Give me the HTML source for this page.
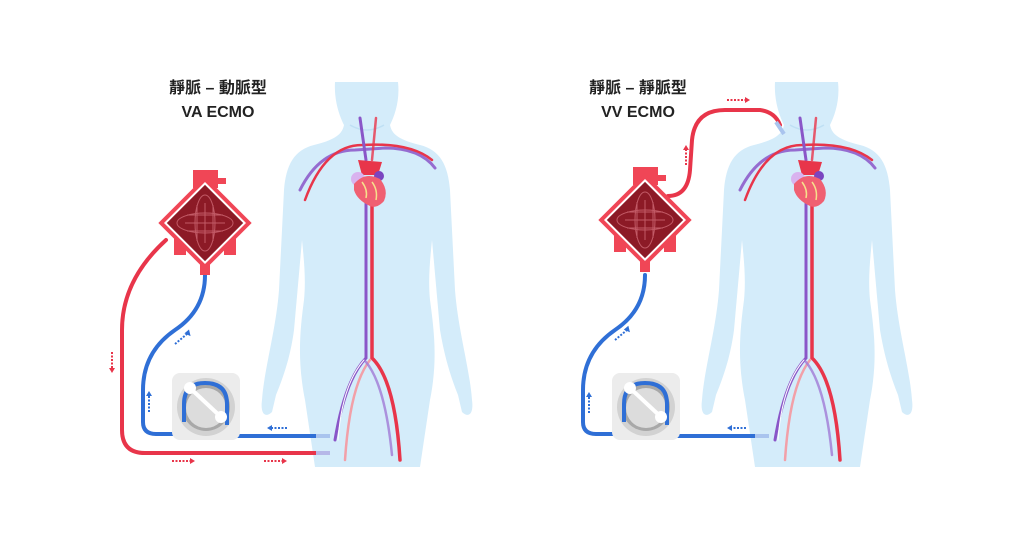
<!DOCTYPE html>
<html><head><meta charset="utf-8"><style>
html,body{margin:0;padding:0;background:#fff;width:1024px;height:546px;overflow:hidden}
svg{display:block}
text{font-family:"Liberation Sans","Noto Sans CJK TC",sans-serif;font-weight:bold;fill:#222}
</style></head><body>
<svg width="1024" height="546" viewBox="0 0 1024 546" xmlns="http://www.w3.org/2000/svg">
<defs>
<g id="body">
<path fill="#d4ecfa" d="M335,82 L398,82 C400,100 395,115 390,125 C392,135 400,140 420,145 C440,150 448,165 450,190 L455,290 C458,330 470,370 472,400 C474,415 468,418 462,412 L458,395 C452,380 445,360 440,330 L432,240 C430,260 428,280 430,300 C434,330 438,360 430,400 L420,467 L315,467 L305,400 C297,360 300,330 304,300 C306,280 304,260 302,240 L294,330 C290,360 282,380 276,395 L272,412 C266,418 260,415 262,400 C264,370 276,330 279,290 L284,190 C286,165 294,150 314,145 C334,140 342,135 344,125 C339,115 334,100 335,82 Z"/>
<path d="M350,125 Q367,135 384,125" stroke="#bfe0f4" stroke-width="1.5" fill="none"/>
<g fill="none" stroke-linecap="round">
<path d="M300,190 Q320,150 355,150 L385,148 Q420,148 435,168" stroke="#8a56c8" stroke-width="3" opacity=".85"/>
<path d="M305,200 Q325,145 362,145 Q410,142 432,160" stroke="#e8354a" stroke-width="2.5"/>
<path d="M360,118 L366,160" stroke="#8a56c8" stroke-width="3"/>
<path d="M376,118 L372,160" stroke="#e8354a" stroke-width="2.5" opacity=".8"/>
<path d="M366,200 L366,358 Q345,380 335,440" stroke="#8a56c8" stroke-width="3"/>
<path d="M372,200 L372,358 Q395,380 400,460" stroke="#e8354a" stroke-width="3.5"/>
<path d="M370,360 Q350,385 345,460" stroke="#f2a0a8" stroke-width="2.5"/>
<path d="M366,362 Q385,385 392,455" stroke="#a07ad6" stroke-width="2.5" opacity=".8"/>
<path d="M364,360 Q342,385 338,440" stroke="#fff" stroke-width="1" />
</g>
<path d="M358,160 L362,175 L378,175 L382,162" fill="#e8354a"/>
<circle cx="358" cy="179" r="7" fill="#d9b3ef"/>
<circle cx="379" cy="176" r="5" fill="#7a45c0"/>
<path d="M354,184 Q365,171 380,179 Q389,190 384,201 Q377,209 370,206 Q357,200 354,190 Z" fill="#f06072"/>
<path d="M362,182 Q368,190 366,198 M372,182 Q378,190 376,200" stroke="#f6e08a" stroke-width="1.5" fill="none"/>
</g>
<g id="oxy">
<rect x="-12" y="-53" width="25" height="18" fill="#f04656"/>
<rect x="13" y="-45" width="8" height="6" fill="#f04656"/>
<rect x="-31" y="14" width="12" height="18" fill="#f04656"/>
<rect x="19" y="14" width="12" height="18" fill="#f04656"/>
<rect x="-5" y="35" width="10" height="17" fill="#f04656"/>
<rect x="-33" y="-33" width="66" height="66" transform="rotate(45)" fill="#f04656"/>
<rect x="-28" y="-28" width="56" height="56" transform="rotate(45)" fill="#8c1a26" stroke="#fff" stroke-width="2"/>
<g stroke="#c25a66" stroke-width="1" fill="none">
<ellipse cx="0" cy="0" rx="28" ry="10"/><ellipse cx="0" cy="0" rx="10" ry="28"/>
<path d="M-20,0 H20 M0,-20 V20 M-18,-8 H18 M-18,8 H18 M-8,-18 V18 M8,-18 V18"/>
</g>
</g>
<g id="pump">
<rect x="0" y="0" width="68" height="67" rx="8" fill="#ececec"/>
<circle cx="34" cy="34" r="29" fill="#d2d2d2"/>
<circle cx="34" cy="34" r="24" fill="#a8a8a8"/>
<circle cx="34" cy="35" r="20" fill="#dcdcdc"/>
</g>
</defs>

<use href="#body"/>
<use href="#body" x="440"/>

<text x="218" y="93" font-size="16" text-anchor="middle">靜脈 – 動脈型</text>
<text x="218" y="117" font-size="16" text-anchor="middle">VA ECMO</text>
<text x="638" y="93" font-size="16" text-anchor="middle">靜脈 – 靜脈型</text>
<text x="638" y="117" font-size="16" text-anchor="middle">VV ECMO</text>

<g fill="none" stroke-linecap="round">
<path d="M166,240 Q122,280 122,330 L122,430 Q122,453 145,453 L316,453" stroke="#e8354a" stroke-width="4"/>
<path d="M205,275 Q205,310 175,330 Q143,352 143,390 L143,422 Q143,434 156,434 L172,434 Q184,434 184,420 L184,400 Q184,385 205,385 Q225,385 225,405 L225,425 Q225,436 238,436 L316,436" stroke="#2f6fd6" stroke-width="4"/>
</g>
<use href="#pump" x="172" y="373"/>
<path d="M184,422 L184,404 Q184,383 205,383 Q227,383 227,404 L227,425" stroke="#2f6fd6" stroke-width="4" fill="none"/>
<line x1="190" y1="388" x2="221" y2="417" stroke="#fff" stroke-width="4"/>
<circle cx="190" cy="388" r="6" fill="#fff"/><circle cx="221" cy="417" r="6" fill="#fff"/>
<rect x="316" y="434" width="14" height="4" fill="#a9c4ee"/>
<rect x="316" y="451" width="14" height="4" fill="#b6b8e8"/>
<use href="#oxy" x="205" y="223"/>

<g stroke-width="2" stroke-dasharray="2,1.5">
<line x1="112" y1="352" x2="112" y2="368" stroke="#e8354a"/>
<line x1="149" y1="412" x2="149" y2="396" stroke="#2f6fd6"/>
<line x1="175" y1="344" x2="187" y2="334" stroke="#2f6fd6"/>
<line x1="287" y1="428" x2="272" y2="428" stroke="#2f6fd6"/>
<line x1="172" y1="461" x2="190" y2="461" stroke="#e8354a"/>
<line x1="264" y1="461" x2="282" y2="461" stroke="#e8354a"/>
<line x1="746" y1="428" x2="732" y2="428" stroke="#2f6fd6"/>
<line x1="589" y1="413" x2="589" y2="397" stroke="#2f6fd6"/>
<line x1="615" y1="340" x2="627" y2="330" stroke="#2f6fd6"/>
<line x1="686" y1="165" x2="686" y2="150" stroke="#e8354a"/>
<line x1="727" y1="100" x2="745" y2="100" stroke="#e8354a"/>
</g>
<g>
<path d="M109,368 L115,368 L112,373Z" fill="#e8354a"/>
<path d="M146,396 L152,396 L149,391Z" fill="#2f6fd6"/>
<path d="M185,331 L191,331 L188,337Z" fill="#2f6fd6" transform="rotate(-40 188 333)"/>
<path d="M272,425 L272,431 L267,428Z" fill="#2f6fd6"/>
<path d="M190,458 L190,464 L195,461Z" fill="#e8354a"/>
<path d="M282,458 L282,464 L287,461Z" fill="#e8354a"/>
<path d="M732,425 L732,431 L727,428Z" fill="#2f6fd6"/>
<path d="M586,397 L592,397 L589,392Z" fill="#2f6fd6"/>
<path d="M625,327 L631,327 L628,333Z" fill="#2f6fd6" transform="rotate(-40 628 330)"/>
<path d="M683,150 L689,150 L686,145Z" fill="#e8354a"/>
<path d="M745,97 L745,103 L750,100Z" fill="#e8354a"/>
</g>

<g fill="none" stroke-linecap="round">
<path d="M668,196 Q688,196 690,170 L692,140 Q695,110 725,110 L760,110 Q775,112 780,125" stroke="#e8354a" stroke-width="4"/>
<path d="M645,275 Q645,310 615,330 Q583,352 583,390 L583,422 Q583,434 596,434 L612,434 Q624,434 624,420 L624,400 Q624,385 645,385 Q665,385 665,405 L665,425 Q665,436 678,436 L755,436" stroke="#2f6fd6" stroke-width="4"/>
</g>
<use href="#pump" x="612" y="373"/>
<path d="M624,422 L624,404 Q624,383 645,383 Q667,383 667,404 L667,425" stroke="#2f6fd6" stroke-width="4" fill="none"/>
<line x1="630" y1="388" x2="661" y2="417" stroke="#fff" stroke-width="4"/>
<circle cx="630" cy="388" r="6" fill="#fff"/><circle cx="661" cy="417" r="6" fill="#fff"/>
<rect x="755" y="434" width="14" height="4" fill="#a9c4ee"/>
<path d="M776,122 L784,134" stroke="#a9c4ee" stroke-width="4"/>
<use href="#oxy" x="645" y="220"/>
</svg>
</body></html>
